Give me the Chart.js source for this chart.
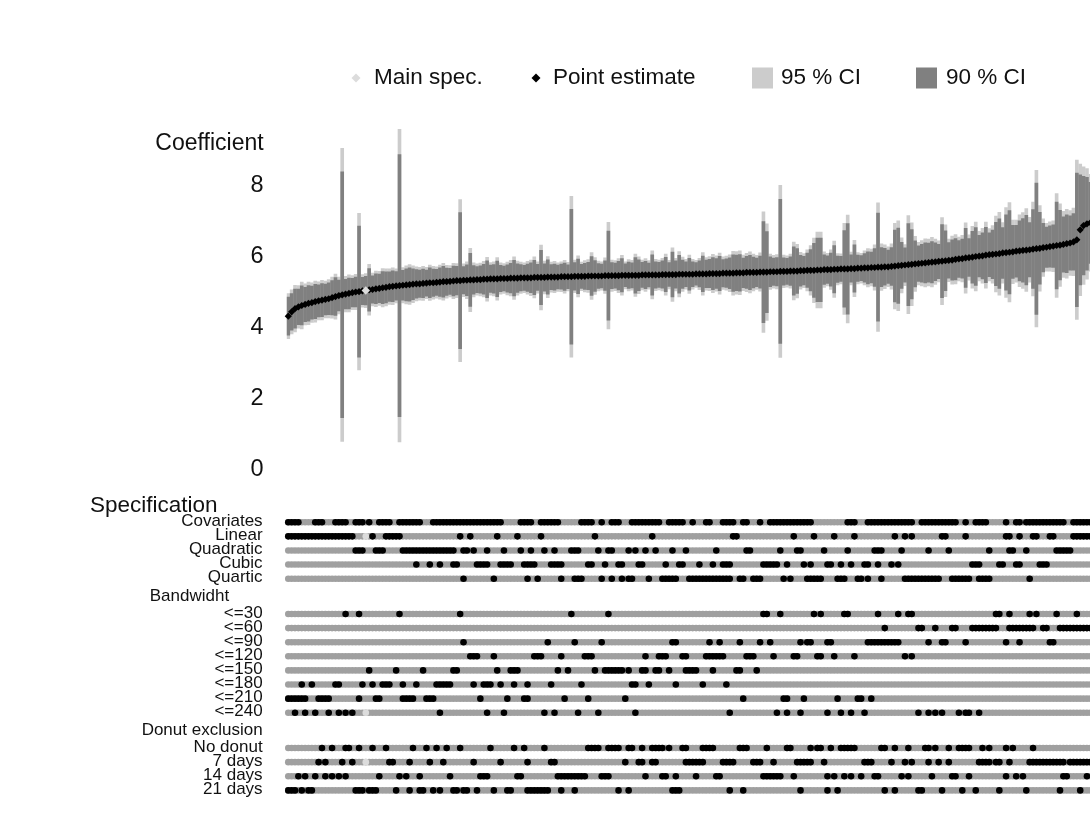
<!DOCTYPE html>
<html>
<head>
<meta charset="utf-8">
<script src="https://cdn.jsdelivr.net/npm/chart.js@4.4.1/dist/chart.umd.min.js"></script>
<style>
  html, body { margin: 0; padding: 0; background: #ffffff; overflow: hidden; }
  #wrap { position: relative; width: 1380px; height: 840px; }
  canvas { display: block; }
</style>
</head>
<body>
<div id="wrap">
  <canvas id="coef-chart" width="1380" height="490"></canvas>
  <canvas id="spec-chart" width="1380" height="350"></canvas>
</div>
<script>
/* Data */

// 2 covariate sets x 4 polynomials x 8 bandwidths x 4 donuts, sorted by estimate.
// Only the first 239 specifications are inside the picture, the rest is cut off on the right.
let nSpecs = 256
let mainSpec = 23

let estimates = [
    4.25, 4.37, 4.46, 4.51, 4.55, 4.58, 4.61, 4.63, 4.66, 4.68,
    4.70, 4.72, 4.74, 4.77, 4.80, 4.83, 4.85, 4.87, 4.89, 4.91,
    4.93, 4.94, 4.96, 4.97, 4.99, 5.00, 5.02, 5.03, 5.05, 5.06,
    5.08, 5.09, 5.10, 5.11, 5.12, 5.13, 5.14, 5.15, 5.16, 5.16,
    5.17, 5.18, 5.19, 5.19, 5.20, 5.21, 5.22, 5.22, 5.23, 5.24,
    5.25, 5.25, 5.26, 5.26, 5.27, 5.27, 5.28, 5.28, 5.29, 5.29,
    5.30, 5.30, 5.30, 5.31, 5.31, 5.31, 5.32, 5.32, 5.32, 5.33,
    5.33, 5.33, 5.33, 5.34, 5.34, 5.34, 5.34, 5.35, 5.35, 5.35,
    5.35, 5.36, 5.36, 5.36, 5.36, 5.37, 5.37, 5.37, 5.37, 5.38,
    5.38, 5.38, 5.38, 5.38, 5.39, 5.39, 5.39, 5.39, 5.39, 5.40,
    5.40, 5.40, 5.40, 5.40, 5.40, 5.41, 5.41, 5.41, 5.41, 5.41,
    5.41, 5.42, 5.42, 5.42, 5.42, 5.42, 5.43, 5.43, 5.43, 5.43,
    5.43, 5.44, 5.44, 5.44, 5.44, 5.45, 5.45, 5.45, 5.45, 5.46,
    5.46, 5.46, 5.46, 5.47, 5.47, 5.47, 5.48, 5.48, 5.48, 5.48,
    5.49, 5.49, 5.49, 5.50, 5.50, 5.50, 5.51, 5.51, 5.51, 5.52,
    5.52, 5.52, 5.53, 5.53, 5.54, 5.54, 5.54, 5.55, 5.55, 5.56,
    5.56, 5.56, 5.57, 5.57, 5.58, 5.58, 5.58, 5.59, 5.59, 5.60,
    5.60, 5.61, 5.61, 5.62, 5.62, 5.63, 5.63, 5.64, 5.64, 5.65,
    5.66, 5.67, 5.68, 5.69, 5.70, 5.71, 5.72, 5.73, 5.74, 5.75,
    5.76, 5.77, 5.78, 5.79, 5.80, 5.81, 5.82, 5.83, 5.85, 5.86,
    5.87, 5.89, 5.90, 5.91, 5.93, 5.94, 5.95, 5.97, 5.98, 5.99,
    6.00, 6.01, 6.03, 6.04, 6.05, 6.06, 6.08, 6.09, 6.10, 6.11,
    6.12, 6.14, 6.15, 6.16, 6.18, 6.19, 6.21, 6.22, 6.24, 6.25,
    6.27, 6.29, 6.31, 6.34, 6.40, 6.68, 6.80, 6.85, 6.88
]

// Standard errors, the intervals are estimate +- z * se
let stdErrors = [
    0.33, 0.32, 0.34, 0.31, 0.34, 0.30, 0.31, 0.29, 0.30, 0.28,
    0.29, 0.27, 0.28, 0.30, 0.33, 0.27, 2.11, 0.26, 0.27, 0.25,
    0.26, 1.13, 0.24, 0.25, 0.37, 0.24, 0.26, 0.25, 0.28, 0.27,
    0.26, 0.27, 0.25, 2.25, 0.26, 0.28, 0.29, 0.27, 0.25, 0.24,
    0.25, 0.23, 0.26, 0.24, 0.23, 0.25, 0.27, 0.24, 0.23, 0.26,
    0.25, 1.17, 0.24, 0.27, 0.46, 0.25, 0.23, 0.24, 0.26, 0.32,
    0.24, 0.25, 0.31, 0.23, 0.22, 0.24, 0.26, 0.31, 0.25, 0.23,
    0.22, 0.24, 0.26, 0.30, 0.23, 0.47, 0.24, 0.30, 0.22, 0.23,
    0.21, 0.22, 0.24, 0.21, 1.16, 0.24, 0.30, 0.21, 0.23, 0.24,
    0.34, 0.27, 0.22, 0.21, 0.26, 0.77, 0.23, 0.22, 0.25, 0.29,
    0.20, 0.23, 0.22, 0.31, 0.27, 0.22, 0.24, 0.21, 0.35, 0.23,
    0.22, 0.24, 0.30, 0.21, 0.39, 0.24, 0.33, 0.25, 0.22, 0.28,
    0.22, 0.20, 0.23, 0.31, 0.24, 0.25, 0.28, 0.26, 0.30, 0.24,
    0.25, 0.27, 0.32, 0.31, 0.32, 0.26, 0.28, 0.30, 0.27, 0.25,
    0.28, 0.87, 0.70, 0.26, 0.24, 0.25, 1.24, 0.24, 0.23, 0.25,
    0.42, 0.39, 0.27, 0.25, 0.30, 0.36, 0.47, 0.55, 0.55, 0.26,
    0.24, 0.29, 0.41, 0.23, 0.22, 0.66, 0.78, 0.24, 0.41, 0.23,
    0.22, 0.25, 0.28, 0.27, 0.33, 0.93, 0.34, 0.32, 0.29, 0.33,
    0.62, 0.65, 0.40, 0.30, 0.71, 0.60, 0.40, 0.31, 0.33, 0.35,
    0.34, 0.36, 0.33, 0.30, 0.63, 0.52, 0.31, 0.35, 0.36, 0.32,
    0.34, 0.51, 0.33, 0.45, 0.50, 0.36, 0.40, 0.48, 0.38, 0.42,
    0.55, 0.60, 0.44, 0.65, 0.72, 0.46, 0.45, 0.52, 0.55, 0.60,
    0.47, 0.68, 1.13, 0.62, 0.42, 0.35, 0.36, 0.37, 0.75, 0.60,
    0.48, 0.50, 0.47, 0.49, 1.15, 0.95, 0.85, 0.80, 0.70
]

let coefTicks = [0, 2, 4, 6, 8]

// Which specifications (column numbers, from 0) use each choice
let covariates = [0, 1, 2, 3, 8, 9, 10, 14, 15, 16, 17, 20, 21, 22, 24, 27, 28, 29, 30,
    33, 34, 35, 36, 37, 38, 39, 43, 44, 45, 46, 47, 48, 49, 50, 51, 52, 53, 54, 55, 56, 57,
    58, 59, 60, 61, 62, 63, 69, 70, 71, 72, 75, 76, 77, 78, 79, 80, 87, 88, 89, 90, 93,
    96, 97, 98, 102, 103, 104, 105, 106, 107, 108, 109, 110, 113, 114, 115, 116, 117, 120,
    124, 125, 129, 130, 131, 132, 135, 136, 140, 143, 144, 145, 146, 147, 148, 149, 150,
    151, 152, 153, 154, 155, 166, 167, 168, 172, 173, 174, 175, 176, 177, 178, 179, 180,
    181, 182, 183, 184, 185, 188, 189, 190, 191, 192, 193, 194, 195, 196, 197, 198, 201,
    204, 205, 206, 207, 213, 216, 217, 219, 220, 221, 222, 223, 224, 225, 226, 227, 228,
    229, 230, 233, 234, 235, 236, 237, 238]

let linear = [0, 1, 2, 3, 4, 5, 6, 7, 8, 9, 10, 11, 12, 13, 14, 15, 16, 17, 18, 19, 25, 29,
    30, 31, 32, 33, 51, 54, 62, 68, 75, 91, 108, 132, 133, 150, 156, 162, 168, 180, 183,
    185, 194, 195, 201, 213, 214, 217, 221, 222, 226, 227, 233, 234, 235, 236, 237, 238]
let quadratic = [20, 21, 22, 26, 27, 28, 34, 35, 36, 37, 38, 39, 40, 41, 42, 43, 44, 45,
    46, 47, 48, 49, 52, 53, 55, 59, 64, 69, 72, 76, 79, 84, 85, 86, 92, 95, 96, 101, 103,
    106, 109, 114, 118, 127, 136, 137, 146, 151, 152, 159, 166, 174, 175, 176, 182, 190,
    196, 208, 214, 215, 219, 228, 229, 230, 231, 232]
let cubic = [38, 42, 45, 49, 50, 56, 57, 58, 59, 63, 64, 65, 66, 70, 71, 72, 73, 78, 79, 80,
    81, 89, 90, 94, 98, 99, 104, 105, 112, 116, 117, 122, 126, 129, 130, 131, 141, 142,
    143, 144, 145, 148, 153, 155, 160, 161, 164, 167, 171, 172, 175, 179, 181, 203, 204,
    205, 211, 212, 216, 217, 223, 224, 225]
let quartic = [52, 61, 71, 74, 81, 85, 86, 87, 93, 96, 99, 101, 102, 107, 111, 112, 113,
    114, 115, 119, 120, 121, 122, 123, 124, 125, 126, 127, 128, 129, 130, 131, 134, 135,
    138, 139, 140, 147, 149, 154, 155, 156, 157, 158, 163, 164, 165, 169, 170, 172, 176,
    183, 184, 185, 186, 187, 188, 189, 190, 191, 192, 193, 197, 198, 199, 200, 201, 202,
    205, 206, 207, 208, 220]

let bw30 = [17, 21, 33, 51, 84, 95, 141, 142, 146, 156, 158, 165, 166, 175, 181, 184, 185,
    210, 211, 214, 220, 222, 228, 234]
let bw60 = [177, 187, 188, 192, 197, 198, 203, 204, 205, 206, 207, 208, 209, 210, 214, 215,
    216, 217, 218, 219, 220, 221, 224, 225, 229, 230, 231, 232, 233, 234, 235, 236, 237, 238]
let bw90 = [52, 77, 85, 93, 114, 115, 125, 128, 134, 140, 143, 152, 154, 155, 160, 161, 172,
    173, 174, 175, 176, 177, 178, 179, 180, 181, 190, 194, 195, 201, 213, 217, 226, 227]
let bw120 = [54, 55, 56, 61, 73, 74, 75, 81, 88, 89, 90, 106, 110, 111, 112, 117, 118, 124,
    125, 126, 127, 128, 129, 136, 137, 138, 144, 150, 151, 157, 158, 162, 168, 183, 185]
let bw150 = [24, 32, 40, 49, 50, 62, 66, 67, 68, 80, 83, 91, 94, 95, 96, 97, 98, 99, 101,
    105, 106, 109, 110, 113, 118, 119, 120, 121, 126, 133, 134, 139]
let bw180 = [4, 7, 14, 15, 22, 25, 28, 29, 30, 34, 38, 44, 45, 46, 47, 48, 55, 58, 59, 60,
    63, 67, 71, 78, 87, 102, 103, 107, 115, 123, 130]
let bw210 = [0, 1, 2, 3, 4, 5, 9, 10, 11, 12, 21, 26, 27, 34, 35, 36, 37, 41, 42, 43, 57, 65,
    70, 71, 82, 89, 100, 135, 147, 148, 153, 163, 169, 170, 173]
let bw240 = [2, 5, 8, 12, 15, 17, 19, 45, 59, 64, 76, 79, 86, 92, 103, 131, 145, 148, 152,
    160, 164, 167, 171, 187, 190, 192, 194, 199, 201, 202, 205]

let noDonut = [10, 13, 17, 18, 21, 25, 29, 37, 41, 44, 47, 51, 60, 67, 70, 76, 89, 90, 91,
    92, 95, 96, 97, 98, 101, 102, 105, 108, 109, 110, 111, 113, 117, 118, 123, 124, 125,
    126, 134, 135, 136, 142, 148, 149, 155, 157, 158, 161, 164, 165, 166, 167, 168, 176,
    177, 180, 184, 189, 190, 192, 196, 199, 200, 201, 202, 206, 208, 213, 215, 221]
let donut7 = [9, 11, 16, 19, 30, 31, 36, 42, 46, 55, 63, 71, 78, 79, 100, 104, 105, 108,
    109, 118, 119, 120, 121, 122, 123, 129, 130, 131, 132, 138, 139, 140, 144, 151, 152,
    153, 154, 155, 159, 171, 172, 173, 179, 183, 185, 190, 193, 196, 205, 206, 207, 208,
    210, 211, 214, 220, 221, 222, 223, 224, 225, 226, 227, 228, 229, 230, 232, 233, 234,
    235, 236, 237, 238]
let donut14 = [3, 5, 8, 11, 13, 15, 17, 27, 33, 35, 39, 48, 57, 58, 59, 68, 69, 80, 81, 82,
    83, 84, 85, 86, 87, 88, 93, 94, 95, 106, 111, 112, 115, 121, 127, 128, 141, 142, 143,
    144, 145, 146, 150, 160, 162, 165, 167, 170, 174, 175, 182, 184, 191, 197, 198, 202,
    213, 216, 218, 230, 231, 237]
let donut21 = [0, 1, 2, 4, 6, 7, 20, 21, 22, 24, 25, 26, 32, 36, 39, 40, 43, 45, 49, 50, 52,
    53, 56, 61, 65, 66, 71, 72, 73, 74, 75, 76, 77, 81, 85, 98, 101, 114, 115, 116, 131,
    135, 152, 160, 163, 177, 180, 187, 188, 194, 200, 204, 211, 219, 229, 235]

// Choices of the main specification (no covariates)
let mainSpecChoices = ['Linear', '<=240', '7 days']

let specGroups = [
    { title: null, rows: [['Covariates', covariates], ['Linear', linear], ['Quadratic', quadratic],
        ['Cubic', cubic], ['Quartic', quartic]] },
    { title: 'Bandwidht', rows: [['<=30', bw30], ['<=60', bw60], ['<=90', bw90], ['<=120', bw120],
        ['<=150', bw150], ['<=180', bw180], ['<=210', bw210], ['<=240', bw240]] },
    { title: 'Donut exclusion', rows: [['No donut', noDonut], ['7 days', donut7],
        ['14 days', donut14], ['21 days', donut21]] }
]

/* Layout */
let fontFamily = '"Liberation Sans", Arial, Helvetica, sans-serif'
let textColor = '#111111'
let plotLeft = 286.6
let plotRightPad = 230.7
let lightGrey = '#cccccc'
let darkGrey = '#808080'
let mainGrey = '#dcdcdc'

// Turn the group list into rows with a vertical position (in row units)
let specRows = []
let specHeaders = []
let rowPos = 0
specGroups.forEach(function(group, g) {
    if (g > 0) {
        specHeaders.push({ label: group.title, k: rowPos + 0.25 })
        rowPos += 1.5
    }
    group.rows.forEach(function(row) {
        specRows.push({ label: row[0], members: row[1], k: rowPos })
        rowPos += 1
    })
})

/* Coefficient panel */
let specIds = []
for (let i = 0; i < nSpecs; i++) { specIds.push(i + 1) }

let ci95 = estimates.map((e, i) => [e - 1.96 * stdErrors[i], e + 1.96 * stdErrors[i]])
let ci90 = estimates.map((e, i) => [e - 1.645 * stdErrors[i], e + 1.645 * stdErrors[i]])
let mainSpecPoint = estimates.map((e, i) => i == mainSpec ? e : null)

// Legend and axis title drawn by hand, the Chart.js legend cannot mix marker sizes
let coefDecorations = {
    id: 'coefDecorations',
    afterDraw(chart) {
        let ctx = chart.ctx
        ctx.save()
        ctx.fillStyle = textColor
        ctx.textBaseline = 'middle'
        ctx.textAlign = 'right'
        ctx.font = '23px ' + fontFamily
        ctx.fillText('Coefficient', chart.chartArea.left - 23, chart.chartArea.top + 17)

        let ly = 78
        ctx.textAlign = 'left'
        ctx.font = '22.5px ' + fontFamily
        let diamond = function(x, color, r) {
            ctx.fillStyle = color
            ctx.beginPath()
            ctx.moveTo(x, ly - r)
            ctx.lineTo(x + r, ly)
            ctx.lineTo(x, ly + r)
            ctx.lineTo(x - r, ly)
            ctx.closePath()
            ctx.fill()
        }
        diamond(356, mainGrey, 4.5)
        ctx.fillStyle = textColor
        ctx.fillText('Main spec.', 374, ly)
        diamond(536, '#000000', 4.5)
        ctx.fillStyle = textColor
        ctx.fillText('Point estimate', 553, ly)
        ctx.fillStyle = lightGrey
        ctx.fillRect(752, ly - 10.5, 21, 21)
        ctx.fillStyle = textColor
        ctx.fillText('95 % CI', 781, ly)
        ctx.fillStyle = darkGrey
        ctx.fillRect(916, ly - 10.5, 21, 21)
        ctx.fillStyle = textColor
        ctx.fillText('90 % CI', 946, ly)
        ctx.restore()
    }
}

let coefCanvas = document.querySelector('#coef-chart')
let coefChart = new Chart(coefCanvas.getContext('2d'), {
    type: 'bar',
    data: {
        labels: specIds,
        datasets: [
            {
                label: '95 % CI', data: ci95, backgroundColor: lightGrey, borderWidth: 0,
                grouped: false, categoryPercentage: 1, barPercentage: 1.08, order: 4
            },
            {
                label: '90 % CI', data: ci90, backgroundColor: darkGrey, borderWidth: 0,
                grouped: false, categoryPercentage: 1, barPercentage: 1.08, order: 3
            },
            {
                type: 'line', label: 'Point estimate', data: estimates, showLine: false,
                pointStyle: 'rectRot', pointRadius: 3.6, pointBackgroundColor: '#000000',
                pointBorderWidth: 0, clip: false, order: 2
            },
            {
                type: 'line', label: 'Main spec.', data: mainSpecPoint, showLine: false,
                pointStyle: 'rectRot', pointRadius: 4.2, pointBackgroundColor: mainGrey,
                pointBorderWidth: 0, clip: false, order: 1
            }
        ]
    },
    options: {
        responsive: false,
        animation: false,
        devicePixelRatio: 1,
        layout: { padding: { left: 0, right: plotRightPad, top: 126.2, bottom: 23 } },
        plugins: { legend: { display: false }, tooltip: { enabled: false } },
        scales: {
            x: { display: false, offset: true },
            y: {
                min: 0, max: 9.6,
                grid: { display: false, drawTicks: false },
                border: { display: false },
                ticks: {
                    padding: 23, labelOffset: 2.5, color: textColor,
                    font: { family: fontFamily, size: 23.5 }
                },
                afterBuildTicks(scale) { scale.ticks = coefTicks.map(v => ({ value: v })) },
                afterFit(scale) {
                    // fixed axis width, and no extra room for the half tick labels
                    scale.width = plotLeft
                    scale.paddingTop = 0
                    scale.paddingBottom = 0
                }
            }
        }
    },
    plugins: [coefDecorations]
})

/* Specification panel */
let greyPoints = []
let blackPoints = []
let mainPoints = []
specRows.forEach(function(row) {
    for (let i = 0; i < nSpecs; i++) { greyPoints.push({ x: i, y: row.k }) }
    row.members.forEach(i => blackPoints.push({ x: i, y: row.k }))
    if (mainSpecChoices.includes(row.label)) { mainPoints.push({ x: mainSpec, y: row.k }) }
})

let specLabels = {
    id: 'specLabels',
    afterDraw(chart) {
        let ctx = chart.ctx
        let y = chart.scales.y
        let right = chart.chartArea.left - 24
        ctx.save()
        ctx.fillStyle = textColor
        ctx.textBaseline = 'middle'
        ctx.textAlign = 'right'
        ctx.font = '17px ' + fontFamily
        specRows.forEach(r => ctx.fillText(r.label, right, y.getPixelForValue(r.k) - 1))
        specHeaders.forEach(function(h, n) {
            let shift = n == 0 ? 33.5 : 0
            ctx.fillText(h.label, right - shift, y.getPixelForValue(h.k))
        })
        ctx.textAlign = 'left'
        ctx.font = '22.5px ' + fontFamily
        ctx.fillText('Specification', 90, y.getPixelForValue(-1.15))
        ctx.restore()
    }
}

// Datasets with a lower order are drawn on top
let specCanvas = document.querySelector('#spec-chart')
let specChart = new Chart(specCanvas.getContext('2d'), {
    type: 'scatter',
    data: {
        datasets: [
            { data: greyPoints, pointRadius: 3.3, pointBackgroundColor: '#a0a0a0', pointBorderWidth: 0, clip: false, order: 3 },
            { data: blackPoints, pointRadius: 3.3, pointBackgroundColor: '#000000', pointBorderWidth: 0, clip: false, order: 2 },
            { data: mainPoints, pointRadius: 3.3, pointBackgroundColor: mainGrey, pointBorderWidth: 0, clip: false, order: 1 }
        ]
    },
    options: {
        responsive: false,
        animation: false,
        devicePixelRatio: 1,
        layout: { padding: { left: plotLeft, right: plotRightPad, top: 1, bottom: 35.5 } },
        plugins: { legend: { display: false }, tooltip: { enabled: false } },
        scales: {
            x: { type: 'linear', min: -0.5, max: nSpecs - 0.5, display: false },
            y: { type: 'linear', min: -2, max: 20, reverse: true, display: false }
        }
    },
    plugins: [specLabels]
})
</script>
</body>
</html>
